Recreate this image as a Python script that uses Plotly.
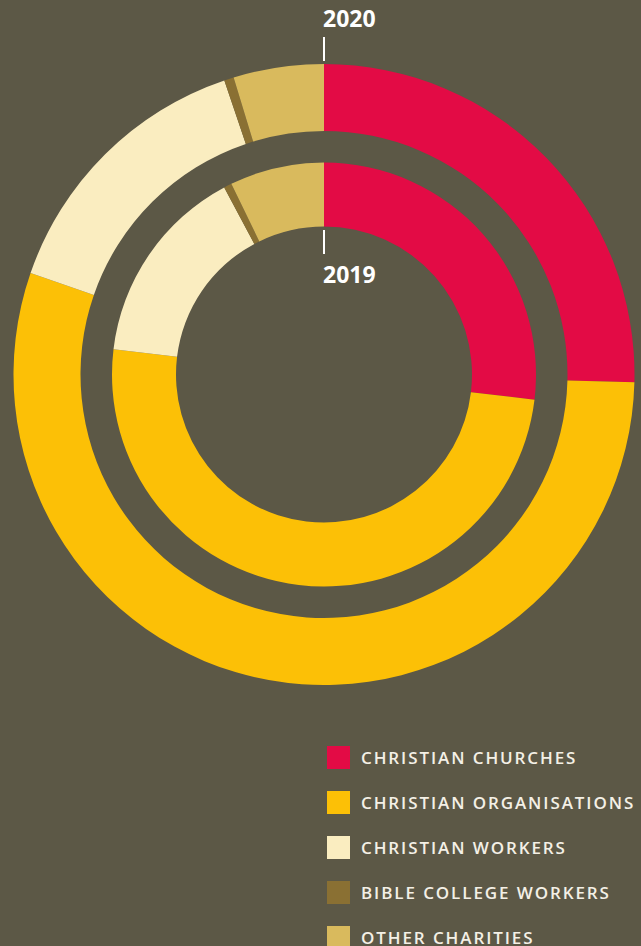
import plotly.graph_objects as go

categories = ["CHRISTIAN CHURCHES", "CHRISTIAN ORGANISATIONS", "CHRISTIAN WORKERS",
              "BIBLE COLLEGE WORKERS", "OTHER CHARITIES"]
values_2020 = [25.4, 54.9, 14.5, 0.5, 4.7]
values_2019 = [26.9, 50.0, 15.3, 0.6, 7.2]
colors = ["#e30b45", "#fcc006", "#faedc0", "#8a7033", "#d9ba5d"]
year_labels = ["2020", "2019"]

W, H = 641, 946
BG = "#5c5846"
cx, cy = 324, 374.5

def dom(r):
    return dict(x=[(cx - r) / W, (cx + r) / W], y=[(H - cy - r) / H, (H - cy + r) / H])

fig = go.Figure()
fig.add_trace(go.Pie(labels=categories, values=values_2020, sort=False, direction="clockwise",
                     rotation=0, hole=243.5 / 310.5, domain=dom(310.5), textinfo="none",
                     marker=dict(colors=colors, line=dict(width=0)), showlegend=False,
                     hoverinfo="label+percent", name=year_labels[0]))
fig.add_trace(go.Pie(labels=categories, values=values_2019, sort=False, direction="clockwise",
                     rotation=0, hole=148 / 212, domain=dom(212), textinfo="none",
                     marker=dict(colors=colors, line=dict(width=0)), showlegend=False,
                     hoverinfo="label+percent", name=year_labels[1]))

def px(xp):
    return xp / W

def py(yp):
    return (H - yp) / H

shapes = []
annotations = []
# year labels with tick lines
for lab, ty, (l0, l1) in [(year_labels[0], 18, (37, 61)), (year_labels[1], 274, (230, 254))]:
    shapes.append(dict(type="line", xref="paper", yref="paper", x0=px(324), x1=px(324),
                       y0=py(l0), y1=py(l1), line=dict(color="white", width=2)))
    annotations.append(dict(text=lab, xref="paper", yref="paper", x=px(321), y=py(ty),
                            xanchor="left", yanchor="middle", showarrow=False,
                            font=dict(family="Open Sans", size=23, color="white", weight=700)))

# legend
for i, (cat, col) in enumerate(zip(categories, colors)):
    top = 746 + 45 * i
    shapes.append(dict(type="rect", xref="paper", yref="paper", x0=px(327), x1=px(350),
                       y0=py(top), y1=py(top + 23), fillcolor=col, line=dict(width=0)))
    annotations.append(dict(text='<span style="letter-spacing:1.9px">' + cat + '</span>',
                            xref="paper", yref="paper", x=px(359), y=py(top + 11.5),
                            xanchor="left", yanchor="middle", showarrow=False,
                            font=dict(family="Open Sans", size=17, color="#f4f0e6", weight=600)))

fig.update_layout(width=W, height=H, margin=dict(l=0, r=0, t=0, b=0),
                  paper_bgcolor=BG, plot_bgcolor=BG, shapes=shapes, annotations=annotations)
fig.write_html("out.html", config={"displayModeBar": False},
               post_script="document.body.style.margin='0';document.body.style.background='" + BG + "';")
